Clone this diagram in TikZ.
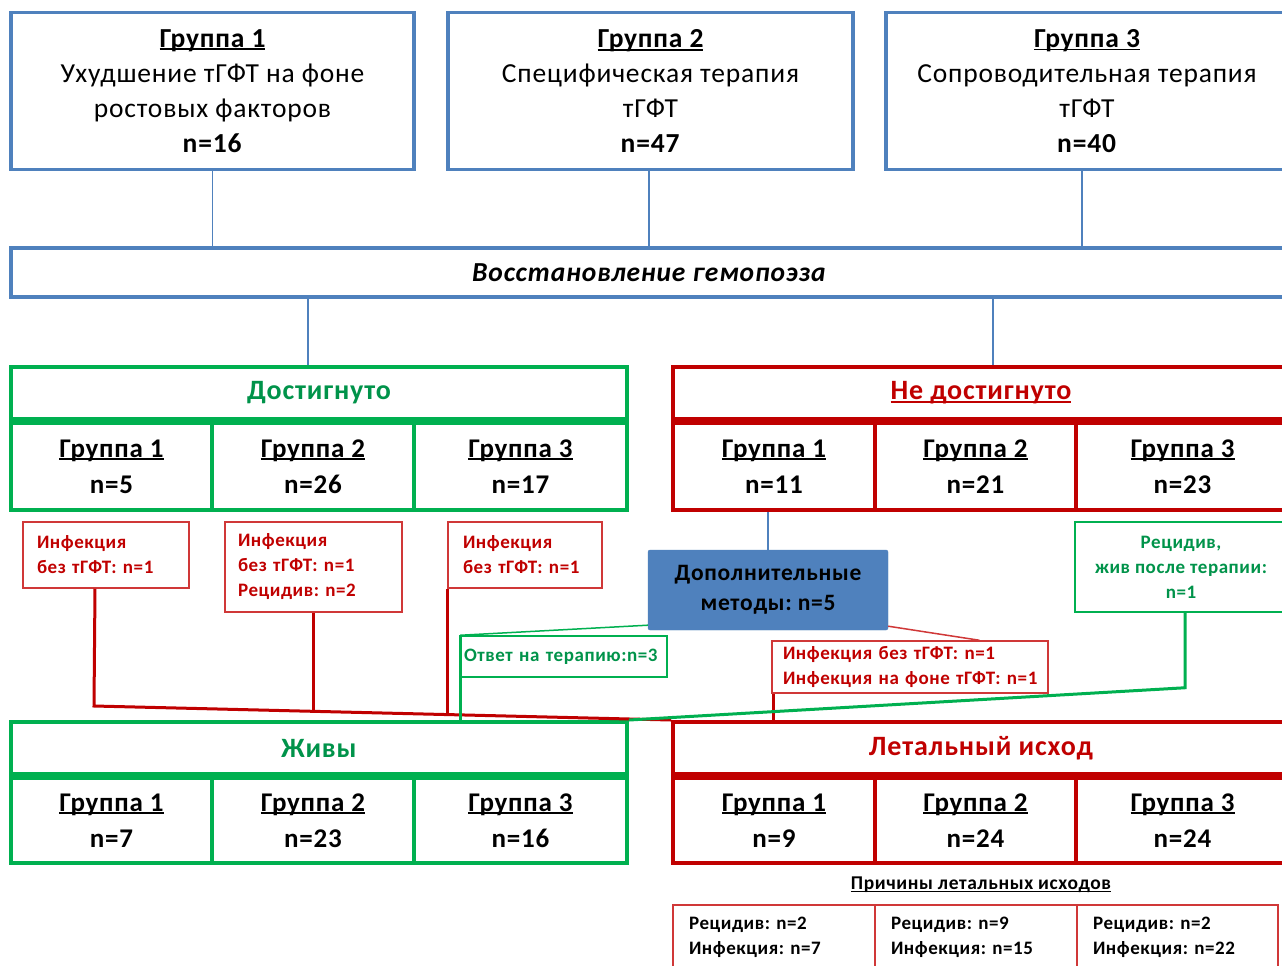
\documentclass[tikz,border=0pt]{standalone}
\usepackage{fontspec}
\setmainfont{Carlito}[LetterSpace=3]
\usetikzlibrary{calc}
\frenchspacing
\definecolor{bl}{HTML}{4F81BD}
\definecolor{gr}{HTML}{00B050}
\definecolor{rd}{HTML}{C00000}
\definecolor{gtext}{HTML}{00934A}
\definecolor{thinrd}{HTML}{D03838}
\newcommand{\myul}[1]{\leavevmode\setbox0=\hbox{#1}\rlap{\copy0}\rule[-0.11em]{\wd0}{0.07em}}
\tikzset{
  topbox/.style={draw=bl, line width=3.5pt, align=center, inner sep=0pt,
    font=\fontsize{27.5}{35}\selectfont},
  restbox/.style={draw=bl, line width=3.5pt, inner sep=0pt,
    font=\bfseries\itshape\fontsize{27.5}{30}\selectfont},
  ghead/.style={draw=gr, line width=4pt, inner sep=0pt, text=gtext,
    font=\bfseries\fontsize{28}{30}\selectfont, minimum width=616pt, minimum height=52pt},
  rhead/.style={draw=rd, line width=4pt, inner sep=0pt, text=rd,
    font=\bfseries\fontsize{28}{30}\selectfont, minimum width=616pt, minimum height=52pt},
  gcell/.style={draw=gr, line width=4pt, inner sep=0pt, align=center,
    font=\bfseries\fontsize{27}{36}\selectfont},
  rcell/.style={draw=rd, line width=4pt, inner sep=0pt, align=center,
    font=\bfseries\fontsize{27}{36}\selectfont},
  smallred/.style={draw=thinrd, line width=1.5pt, align=left, text=rd, inner ysep=0pt,
    font=\bfseries\fontsize{19}{25}\selectfont},
  smallgreen/.style={draw=gr, line width=1.5pt, text=gtext, inner ysep=0pt,
    font=\bfseries\fontsize{19}{25}\selectfont},
  dopbox/.style={fill=bl, draw=bl, rounded corners=2pt, align=center, inner sep=0pt,
    font=\bfseries\fontsize{23.5}{30}\selectfont},
  botbox/.style={draw=thinrd, line width=1.5pt, align=left, inner ysep=0pt, inner xsep=16pt,
    text width=170pt, minimum height=65pt, font=\bfseries\fontsize{19}{25}\selectfont},
  bline/.style={draw=bl, line width=1.5pt},
  rline/.style={draw=rd, line width=3pt},
  gline/.style={draw=gr, line width=3pt},
}
\begin{document}
\begin{tikzpicture}[x=1pt,y=-1pt]
\useasboundingbox (0,0) rectangle (1282,966);
\clip (0,0) rectangle (1282,966);
\fill[white] (0,0) rectangle (1282,966);
% top boxes
\node[topbox, minimum width=403pt, minimum height=157pt] (t1) at (212.5,91)
  {\textbf{\myul{Группа 1}}\\Ухудшение тГФТ на фоне\\ростовых факторов\\\textbf{n=16}};
\node[topbox, minimum width=405pt, minimum height=157pt] (t2) at (650.5,91)
  {\textbf{\myul{Группа 2}}\\Специфическая терапия\\тГФТ\\\textbf{n=47}};
\node[topbox, minimum width=402pt, minimum height=157pt] (t3) at (1087,91)
  {\textbf{\myul{Группа 3}}\\Сопроводительная терапия\\тГФТ\\\textbf{n=40}};
\node[restbox, minimum width=1276pt, minimum height=49pt] (rest) at (649,272.5)
  {Восстановление гемопоэза};
% achieved
\node[ghead] (dh) at (319,393) {Достигнуто};
\node[gcell, minimum width=201pt, minimum height=87pt] (dc1) at (111.5,466.5) {\myul{Группа 1}\\n=5};
\node[gcell, minimum width=202pt, minimum height=87pt] (dc2) at (313,466.5) {\myul{Группа 2}\\n=26};
\node[gcell, minimum width=213pt, minimum height=87pt] (dc3) at (520.5,466.5) {\myul{Группа 3}\\n=17};
% not achieved
\node[rhead] (nh) at (981,393) {\myul{Не достигнуто}};
\node[rcell, minimum width=202pt, minimum height=87pt] (nc1) at (774,466.5) {\myul{Группа 1}\\n=11};
\node[rcell, minimum width=201pt, minimum height=87pt] (nc2) at (975.5,466.5) {\myul{Группа 2}\\n=21};
\node[rcell, minimum width=213pt, minimum height=87pt] (nc3) at (1182.5,466.5) {\myul{Группа 3}\\n=23};
% alive
\node[ghead] (zh) at (319,748) {Живы};
\node[gcell, minimum width=201pt, minimum height=85pt] (zc1) at (111.5,820.5) {\myul{Группа 1}\\n=7};
\node[gcell, minimum width=202pt, minimum height=85pt] (zc2) at (313,820.5) {\myul{Группа 2}\\n=23};
\node[gcell, minimum width=213pt, minimum height=85pt] (zc3) at (520.5,820.5) {\myul{Группа 3}\\n=16};
% lethal
\node[rhead] (lh) at (981,748) {Летальный исход};
\node[rcell, minimum width=202pt, minimum height=85pt] (lc1) at (774,820.5) {\myul{Группа 1}\\n=9};
\node[rcell, minimum width=201pt, minimum height=85pt] (lc2) at (975.5,820.5) {\myul{Группа 2}\\n=24};
\node[rcell, minimum width=213pt, minimum height=85pt] (lc3) at (1182.5,820.5) {\myul{Группа 3}\\n=24};
% small boxes
\node[smallred, inner xsep=14pt, text width=138pt, minimum height=66pt] (ia) at (106,555)
  {\mbox{Инфекция}\\\mbox{без тГФТ: n=1}};
\node[smallred, inner xsep=13pt, text width=151pt, minimum height=90pt] (ib) at (313.5,567)
  {\mbox{Инфекция}\\\mbox{без тГФТ: n=1}\\\mbox{Рецидив: n=2}};
\node[smallred, inner xsep=15pt, text width=124pt, minimum height=66pt] (ic) at (525,555)
  {\mbox{Инфекция}\\\mbox{без тГФТ: n=1}};
\node[dopbox, minimum width=240pt, minimum height=80pt] (dop) at (768,590)
  {Дополнительные\\методы: n=5};
\node[smallgreen, align=center, inner xsep=0pt, minimum width=212pt, minimum height=90pt] (rec) at (1181,567)
  {Рецидив,\\жив после терапии:\\n=1};
\node[smallgreen, align=left, inner xsep=4pt, text width=199pt, minimum height=41pt] (otv) at (563.5,656.5)
  {\mbox{Ответ на терапию:n=3}};
\node[smallred, inner xsep=11pt, text width=254pt, minimum height=52pt] (inf) at (910,667)
  {\mbox{Инфекция без тГФТ: n=1}\\\mbox{Инфекция на фоне тГФТ: n=1}};
\node[font=\bfseries\fontsize{19.5}{20}\selectfont, inner sep=0pt] (prich) at (981,885)
  {\myul{Причины летальных исходов}};
\node[botbox] (b1) at (774,937.5) {\mbox{Рецидив: n=2}\\\mbox{Инфекция: n=7}};
\node[botbox] (b2) at (976,937.5) {\mbox{Рецидив: n=9}\\\mbox{Инфекция: n=15}};
\node[botbox, text width=169pt] (b3) at (1177.5,937.5) {\mbox{Рецидив: n=2}\\\mbox{Инфекция: n=22}};
% blue connectors
\draw[bline] (t1.south) -- (t1.south |- rest.north);
\draw[bline] ([xshift=-1.5pt]t2.south) -- ([xshift=-1.5pt]t2.south |- rest.north);
\draw[bline] ([xshift=-5pt]t3.south) -- ([xshift=-5pt]t3.south |- rest.north);
\draw[bline] ([xshift=-11pt]dh.north |- rest.south) -- ([xshift=-11pt]dh.north);
\draw[bline] ([xshift=12pt]nh.north |- rest.south) -- ([xshift=12pt]nh.north);
\draw[bline] (dop.north |- nc1.south) -- (dop.north);
% red connectors
\coordinate (rj) at (94,706);
\draw[rline] ([xshift=-11pt]ia.south) -- (rj) -- (lh.north west);
\coordinate (rb) at ($(rj)!0.379!(lh.north west)$);
\coordinate (rc) at ($(rj)!0.611!(lh.north west)$);
\draw[rline] (ib.south) -- (ib.south |- rb);
\draw[rline] (ic.south west) -- (ic.south west |- rc);
\draw[draw=thinrd, line width=1.5pt] ([yshift=4pt]dop.south east) -- ($(inf.north west)!0.75!(inf.north east)$);
\draw[rline] ([xshift=2pt]inf.south west) -- ([xshift=2pt]inf.south west |- lh.north);
% green connectors
\draw[draw=gr, line width=1.5pt] ([yshift=5pt]dop.south west) -- ([xshift=1pt]otv.north west);
\draw[gline] ([xshift=1pt]otv.north west) -- ([xshift=1pt]otv.north west |- zh.north);
\draw[gline] ([xshift=4pt]rec.south) -- ++(0,75) -- (zh.north east);
\end{tikzpicture}
\end{document}
